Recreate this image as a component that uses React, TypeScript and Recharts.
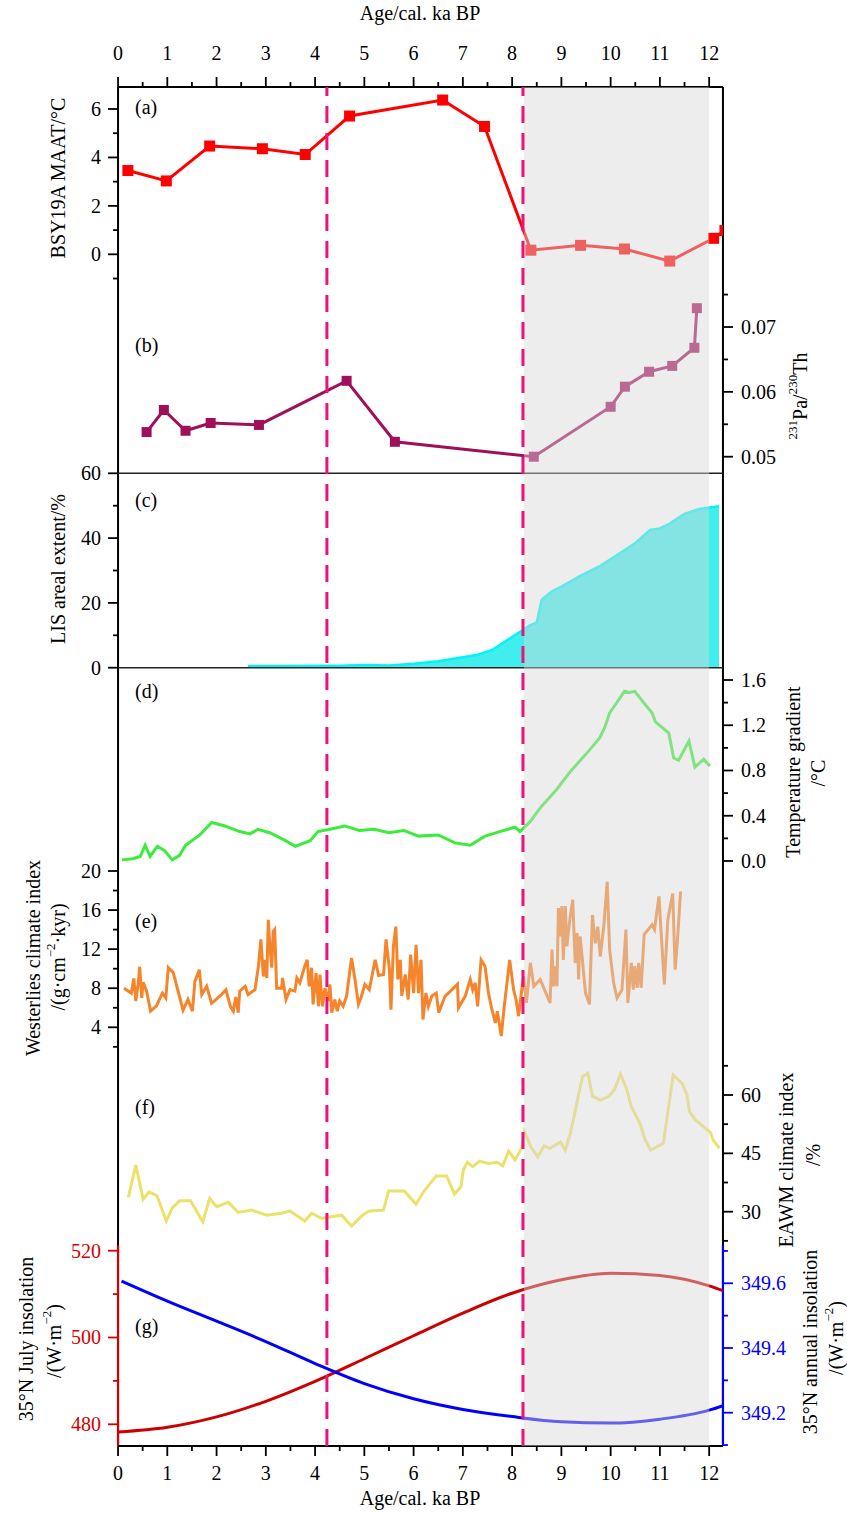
import React from 'react';
import { ComposedChart, Line, Area, XAxis, YAxis, ReferenceLine, ReferenceArea } from 'recharts';

// ---------------- data ----------------
const ageTicks = [0, 0.5, 1, 1.5, 2, 2.5, 3, 3.5, 4, 4.5, 5, 5.5, 6, 6.5, 7, 7.5, 8, 8.5, 9, 9.5, 10, 10.5, 11, 11.5, 12];

// (a) BSY19A MAAT
const ageA = [0.2, 0.98, 1.86, 2.93, 3.8, 4.7, 6.59, 7.44, 8.38, 9.39, 10.28, 11.2, 12.09, 12.32];
const maatA = [3.46, 3.03, 4.47, 4.36, 4.12, 5.71, 6.37, 5.28, 0.17, 0.37, 0.22, -0.28, 0.66, 0.98];

// (b) 231Pa/230Th
const ageB = [0.58, 0.93, 1.37, 1.88, 2.86, 4.64, 5.62, 8.44, 10.0, 10.29, 10.78, 11.25, 11.7, 11.75];
const paB = [0.0538, 0.0572, 0.054, 0.0552, 0.0549, 0.0617, 0.0523, 0.05, 0.0577, 0.0608, 0.0631, 0.064, 0.0668, 0.0729];

// (c) LIS areal extent
const ageC = [2.64, 3.5, 4.5, 5.0, 5.5, 6.0, 6.5, 7.0, 7.3, 7.6, 7.85, 8.1, 8.35, 8.5, 8.6, 8.8, 9.0, 9.4, 9.8, 10.2, 10.5, 10.8, 11.0, 11.2, 11.5, 11.8, 12.2];
const lisC = [0.5, 0.5, 0.6, 0.8, 0.7, 1.2, 2.0, 3.2, 4.0, 5.5, 8, 10.5, 13, 14, 21, 23.5, 25, 28.5, 31.5, 35.5, 38.5, 42.5, 43, 44.5, 47.5, 49, 49.8];

// (d) Temperature gradient
const ageD = [0.08, 0.3, 0.45, 0.55, 0.65, 0.8, 0.95, 1.1, 1.25, 1.37, 1.66, 1.9, 2.17, 2.47, 2.68, 2.84, 3.08, 3.4, 3.6, 3.9, 4.06, 4.3, 4.6, 4.9, 5.2, 5.5, 5.8, 6.1, 6.5, 6.84, 7.15, 7.45, 7.75, 8.06, 8.16, 8.37, 8.57, 8.9, 9.18, 9.57, 9.78, 9.88, 9.98, 10.14, 10.28, 10.38, 10.49, 10.67, 10.84, 10.91, 11.18, 11.28, 11.38, 11.59, 11.71, 11.89, 12.01];
const gradD = [0.01, 0.02, 0.04, 0.14, 0.04, 0.13, 0.09, 0.01, 0.05, 0.14, 0.23, 0.34, 0.31, 0.26, 0.24, 0.28, 0.25, 0.18, 0.13, 0.18, 0.26, 0.28, 0.31, 0.27, 0.28, 0.25, 0.27, 0.22, 0.23, 0.16, 0.14, 0.22, 0.26, 0.3, 0.26, 0.35, 0.47, 0.63, 0.79, 0.98, 1.09, 1.18, 1.31, 1.41, 1.5, 1.49, 1.5, 1.4, 1.31, 1.23, 1.13, 0.91, 0.89, 1.06, 0.83, 0.9, 0.84];

// (e) Westerlies climate index
const ageE = [0.12, 0.27, 0.32, 0.36, 0.41, 0.44, 0.48, 0.51, 0.58, 0.66, 0.78, 0.9, 0.97, 1.02, 1.12, 1.32, 1.42, 1.51, 1.56, 1.65, 1.7, 1.8, 1.9, 2.1, 2.19, 2.28, 2.34, 2.39, 2.44, 2.47, 2.58, 2.64, 2.78, 2.85, 2.9, 2.95, 2.98, 3.02, 3.05, 3.08, 3.12, 3.15, 3.18, 3.22, 3.32, 3.34, 3.41, 3.49, 3.59, 3.63, 3.69, 3.79, 3.84, 3.88, 3.93, 3.96, 4.02, 4.07, 4.1, 4.15, 4.2, 4.27, 4.3, 4.34, 4.4, 4.45, 4.5, 4.57, 4.64, 4.74, 4.81, 4.88, 4.93, 5.01, 5.1, 5.22, 5.29, 5.39, 5.44, 5.51, 5.54, 5.59, 5.64, 5.68, 5.73, 5.76, 5.83, 5.89, 5.94, 6.0, 6.05, 6.1, 6.15, 6.19, 6.25, 6.3, 6.37, 6.46, 6.51, 6.64, 6.78, 6.89, 6.91, 7.05, 7.15, 7.2, 7.25, 7.3, 7.37, 7.45, 7.52, 7.59, 7.66, 7.7, 7.78, 7.84, 7.95, 8.03, 8.08, 8.13, 8.18, 8.23, 8.29, 8.37, 8.44, 8.57, 8.77, 8.81, 8.84, 8.88, 8.91, 8.94, 8.98, 9.01, 9.04, 9.08, 9.11, 9.18, 9.23, 9.28, 9.32, 9.35, 9.38, 9.42, 9.49, 9.57, 9.63, 9.69, 9.74, 9.79, 9.86, 9.93, 9.98, 10.06, 10.13, 10.23, 10.31, 10.35, 10.42, 10.46, 10.49, 10.54, 10.57, 10.62, 10.68, 10.84, 10.89, 10.98, 11.09, 11.16, 11.21, 11.26, 11.31, 11.35, 11.42];
const westE = [8.0, 7.5, 9.0, 6.7, 8.5, 10.2, 7.0, 8.6, 7.7, 5.65, 6.2, 7.5, 7.0, 10.1, 9.6, 5.75, 6.85, 5.65, 8.7, 9.9, 7.35, 8.2, 6.45, 7.35, 7.85, 6.15, 5.65, 7.1, 5.5, 7.7, 8.2, 7.35, 7.85, 10.25, 13.0, 9.2, 10.9, 9.05, 15.0, 12.45, 10.1, 13.8, 14.0, 8.0, 8.0, 9.05, 6.85, 7.85, 7.7, 9.05, 8.55, 10.25, 10.9, 8.2, 10.1, 6.35, 9.55, 6.15, 9.4, 6.15, 8.0, 6.7, 8.4, 5.5, 6.85, 5.65, 6.7, 6.15, 7.2, 11.1, 8.9, 6.35, 7.0, 8.4, 7.85, 10.9, 9.3, 9.4, 13.0, 9.9, 5.8, 12.3, 14.3, 8.9, 10.9, 7.2, 9.4, 6.85, 11.45, 7.5, 12.45, 7.5, 10.9, 4.8, 7.5, 6.15, 7.2, 7.5, 5.5, 7.2, 7.85, 8.4, 6.0, 7.2, 8.9, 7.85, 8.55, 6.15, 10.9, 10.25, 7.5, 5.8, 4.45, 5.65, 3.1, 6.15, 10.9, 7.85, 6.85, 5.15, 7.2, 9.2, 6.5, 10.6, 8.2, 8.9, 6.5, 11.95, 8.2, 10.25, 8.2, 16.2, 13.3, 16.4, 10.9, 16.4, 12.3, 15.35, 17.05, 10.6, 13.65, 8.9, 13.3, 11.25, 7.5, 6.35, 15.5, 12.6, 14.3, 11.25, 14.3, 18.9, 11.95, 8.55, 7.0, 7.85, 14.0, 6.5, 10.6, 7.85, 10.25, 8.05, 10.6, 8.05, 13.5, 14.5, 14.0, 17.4, 8.4, 15.0, 16.4, 17.7, 9.9, 12.45, 17.9];

// (f) EAWM climate index
const ageF = [0.21, 0.36, 0.51, 0.63, 0.79, 0.98, 1.1, 1.25, 1.47, 1.72, 1.86, 2.0, 2.24, 2.44, 2.71, 3.02, 3.32, 3.49, 3.79, 3.93, 4.13, 4.54, 4.74, 4.95, 5.1, 5.39, 5.49, 5.81, 6.05, 6.2, 6.46, 6.67, 6.83, 6.96, 7.01, 7.09, 7.2, 7.34, 7.52, 7.69, 7.81, 7.93, 8.06, 8.2, 8.25, 8.38, 8.52, 8.65, 8.77, 8.98, 9.08, 9.18, 9.3, 9.34, 9.43, 9.54, 9.63, 9.79, 9.96, 10.08, 10.2, 10.32, 10.42, 10.6, 10.7, 10.81, 11.07, 11.27, 11.45, 11.55, 11.6, 11.72, 11.89, 12.03, 12.08, 12.21];
const eawmF = [33.7, 42.0, 33.2, 35.1, 34.1, 27.6, 31.0, 32.8, 32.8, 27.4, 33.4, 31.3, 32.4, 29.8, 30.4, 29.1, 29.6, 30.2, 27.6, 29.6, 28.3, 29.1, 26.3, 29.0, 30.2, 30.4, 35.3, 35.3, 31.9, 35.1, 39.2, 39.2, 34.5, 36.4, 40.7, 42.7, 41.6, 43.0, 42.4, 42.7, 41.8, 45.6, 43.3, 46.5, 50.6, 46.7, 44.1, 46.9, 46.3, 47.9, 45.8, 50.0, 57.0, 59.6, 64.7, 65.6, 59.7, 58.7, 59.6, 61.5, 65.4, 61.7, 57.0, 52.5, 48.5, 45.8, 47.6, 65.1, 63.0, 60.0, 55.7, 53.6, 51.8, 50.3, 48.4, 46.3];

// (g) insolation
const ageJuly = [0, 1, 2, 3, 4, 5, 6, 7, 8, 9, 10, 11, 12, 12.28];
const julyG = [478.2, 479.3, 481.7, 485.3, 489.9, 495.1, 500.4, 505.6, 510.2, 513.3, 514.8, 514.3, 511.9, 510.8];
const ageAnnual = [0.07, 1, 2, 3, 4, 5, 6, 7, 8, 9, 10, 11, 12, 12.28];
const annualG = [349.607, 349.545, 349.483, 349.42, 349.352, 349.29, 349.243, 349.21, 349.188, 349.172, 349.168, 349.18, 349.208, 349.222];

// tick sets
const ticksA = [-1, 0, 1, 2, 3, 4, 5, 6];
const ticksB = [0.05, 0.055, 0.06, 0.065, 0.07, 0.075];
const ticksC = [0, 10, 20, 30, 40, 50, 60];
const ticksD = [0, 0.2, 0.4, 0.6, 0.8, 1.0, 1.2, 1.4, 1.6];
const ticksE = [2, 4, 6, 8, 10, 12, 14, 16, 18, 20];
const ticksF = [22.5, 30, 37.5, 45, 52.5, 60, 67.5];
const ticksJuly = [480, 490, 500, 510, 520];
const ticksAnnual = [349.1, 349.2, 349.3, 349.4, 349.5, 349.6, 349.7];

const eventAges = [4.24, 8.22];
const bandStart = 8.24;
const bandEnd = 12.0;

// ---------------- layout ----------------
const W = 847, H = 1515;
const PL = 118, PR = 723, PT = 87, PB = 1446;
const X_MAX = 12.28;
const TINY = 0.01;
const FONT = '"Liberation Serif", "Times New Roman", serif';
const MARGIN = { top: PT, bottom: H - PB, left: PL, right: W - PR };

const zip = (xs: number[], ys: number[]) => xs.map((x, i) => ({ x, y: ys[i] }));

function domainFrom(v1: number, p1: number, v2: number, p2: number): [number, number] {
  const k = (p1 - p2) / (v2 - v1);
  return [v1 - (PB - p1) / k, v1 + (p1 - PT) / k];
}

const domA = domainFrom(0, 254.3, 6, 109);
const domB = domainFrom(0.05, 456.7, 0.07, 327);
const domC = domainFrom(0, 667.7, 60, 473.3);
const domD = domainFrom(0, 861, 1.6, 680);
const domE = domainFrom(4, 1027.3, 20, 871);
const domF = domainFrom(30, 1211.7, 60, 1095);
const domJuly = domainFrom(480, 1424.3, 520, 1250.7);
const domAnnual = domainFrom(349.2, 1412.7, 349.6, 1283.3);

type Side = 'left' | 'right' | 'top' | 'bottom';
function makeTick(side: Side, isMajor: (v: number) => boolean, fmt: (v: number) => string, color = '#000') {
  return function TickMark(props: any) {
    const { x, y, payload } = props;
    const v = Number(payload.value);
    const major = isMajor(v);
    const len = major ? 10 : 5;
    let x2 = x, y2 = y, tx = x, ty = y, anchor = 'middle', dy = '0';
    if (side === 'left') { x2 = x - len; tx = x - 17; anchor = 'end'; dy = '0.35em'; }
    else if (side === 'right') { x2 = x + len; tx = x + 18; anchor = 'start'; dy = '0.35em'; }
    else if (side === 'top') { y2 = y - len; ty = y - 27; }
    else { y2 = y + len; ty = y + 34; }
    return (
      <g>
        <line x1={x} y1={y} x2={x2} y2={y2} stroke={color} strokeWidth={1.8} />
        {major ? (
          <text x={tx} y={ty} dy={dy} textAnchor={anchor} fill={color} fontSize={20} fontFamily={FONT}>
            {fmt(v)}
          </text>
        ) : null}
      </g>
    );
  };
}

const near = (a: number, b: number) => Math.abs(a - b) < 1e-6;
const isMult = (step: number) => (v: number) => near(v / step, Math.round(v / step));

const square = (color: string, s: number) => (props: any) => {
  const { cx, cy, index } = props;
  if (cx == null || cy == null) return <g key={index} />;
  return <rect key={index} x={cx - s / 2} y={cy - s / 2} width={s} height={s} fill={color} />;
};

const RED_G = '#d40000';
const BLUE_G = '#0000ff';

export default function App() {
  const axisLine = { stroke: '#000', strokeWidth: 2 };
  const yCommon = { type: 'number' as const, width: TINY, axisLine: false, tickLine: false, tickSize: 0, tickMargin: 0, interval: 0 as const, allowDataOverflow: true };
  return (
    <div style={{ position: 'absolute', left: 0, top: 0, width: W, height: H, background: '#fff' }}>
      <div style={{ position: 'absolute', left: 0, top: 0 }}>
        <ComposedChart width={W} height={H} margin={MARGIN} data={[{ x: 0 }, { x: X_MAX }]}>
          <XAxis xAxisId="bx" type="number" dataKey="x" orientation="bottom" domain={[0, X_MAX]} allowDataOverflow height={TINY}
            ticks={ageTicks} interval={0} tickSize={0} tickMargin={0} tickLine={false} axisLine={axisLine}
            tick={makeTick('bottom', isMult(1), (v) => String(v))} />
          <XAxis xAxisId="tx" type="number" dataKey="x" orientation="top" domain={[0, X_MAX]} allowDataOverflow height={TINY}
            ticks={ageTicks} interval={0} tickSize={0} tickMargin={0} tickLine={false} axisLine={axisLine}
            tick={makeTick('top', isMult(1), (v) => String(v))} />

          <YAxis yAxisId="a" orientation="left" domain={domA} ticks={ticksA} {...yCommon}
            tick={makeTick('left', isMult(2), (v) => String(v))} />
          <YAxis yAxisId="b" orientation="right" domain={domB} ticks={ticksB} {...yCommon}
            tick={makeTick('right', isMult(0.01), (v) => v.toFixed(2))} />
          <YAxis yAxisId="c" orientation="left" domain={domC} ticks={ticksC} {...yCommon}
            tick={makeTick('left', isMult(20), (v) => String(v))} />
          <YAxis yAxisId="d" orientation="right" domain={domD} ticks={ticksD} {...yCommon}
            tick={makeTick('right', isMult(0.4), (v) => v.toFixed(1))} />
          <YAxis yAxisId="e" orientation="left" domain={domE} ticks={ticksE} {...yCommon}
            tick={makeTick('left', isMult(4), (v) => String(v))} />
          <YAxis yAxisId="f" orientation="right" domain={domF} ticks={ticksF} {...yCommon}
            tick={makeTick('right', isMult(15), (v) => String(v))} />
          <YAxis yAxisId="july" orientation="left" domain={domJuly} ticks={ticksJuly} {...yCommon}
            tick={makeTick('left', isMult(20), (v) => String(v), RED_G)} />
          <YAxis yAxisId="annual" orientation="right" domain={domAnnual} ticks={ticksAnnual} {...yCommon}
            tick={makeTick('right', (v) => Math.round(v * 10) % 2 === 0, (v) => v.toFixed(1), BLUE_G)} />

          {/* frame */}
          <ReferenceLine xAxisId="bx" yAxisId="a" x={0} stroke="#000" strokeWidth={2} />
          <ReferenceLine xAxisId="bx" yAxisId="a" x={X_MAX} stroke="#000" strokeWidth={2} />
          <ReferenceLine xAxisId="bx" yAxisId="c" y={60} stroke="#222" strokeWidth={1.5} />
          <ReferenceLine xAxisId="bx" yAxisId="c" y={0} stroke="#222" strokeWidth={1.5} />
          <ReferenceLine xAxisId="bx" yAxisId="july" ifOverflow="visible"
            segment={[{ x: 0, y: domJuly[0] }, { x: 0, y: 521.2 }]} stroke={RED_G} strokeWidth={2.2} />
          <ReferenceLine xAxisId="bx" yAxisId="annual" ifOverflow="visible"
            segment={[{ x: X_MAX, y: domAnnual[0] }, { x: X_MAX, y: 349.716 }]} stroke={BLUE_G} strokeWidth={2.2} />

          <Area xAxisId="bx" yAxisId="c" data={zip(ageC, lisC)} dataKey="y" type="linear" baseValue={0}
            stroke="#00f4f4" strokeWidth={2.5} fill="#40eeee" fillOpacity={1} isAnimationActive={false} />
          <Line xAxisId="bx" yAxisId="a" data={zip(ageA, maatA)} dataKey="y" type="linear" stroke="#ff0000" strokeWidth={3}
            dot={square('#ff0000', 11)} isAnimationActive={false} />
          <Line xAxisId="bx" yAxisId="b" data={zip(ageB, paB)} dataKey="y" type="linear" stroke="#a0105a" strokeWidth={3}
            dot={square('#a0105a', 10)} isAnimationActive={false} />
          <Line xAxisId="bx" yAxisId="d" data={zip(ageD, gradD)} dataKey="y" type="linear" stroke="#3cec3c" strokeWidth={3}
            dot={false} isAnimationActive={false} />
          <Line xAxisId="bx" yAxisId="e" data={zip(ageE, westE)} dataKey="y" type="linear" stroke="#f5842a" strokeWidth={3}
            dot={false} isAnimationActive={false} />
          <Line xAxisId="bx" yAxisId="f" data={zip(ageF, eawmF)} dataKey="y" type="linear" stroke="#ebe26a" strokeWidth={3}
            dot={false} isAnimationActive={false} />
          <Line xAxisId="bx" yAxisId="july" data={zip(ageJuly, julyG)} dataKey="y" type="monotone" stroke="#cc0000" strokeWidth={3}
            dot={false} isAnimationActive={false} />
          <Line xAxisId="bx" yAxisId="annual" data={zip(ageAnnual, annualG)} dataKey="y" type="monotone" stroke={BLUE_G} strokeWidth={3}
            dot={false} isAnimationActive={false} />

          {/* shaded interval and event lines, drawn above the series */}
          <ReferenceArea xAxisId="bx" yAxisId="a" x1={bandStart} x2={bandEnd} fill="#d6d6d6" fillOpacity={0.45} stroke="none"
            ifOverflow="visible" zIndex={1500} />
          {eventAges.map((a) => (
            <ReferenceLine key={a} xAxisId="bx" yAxisId="a" x={a} stroke="#ee1177" strokeWidth={3} strokeDasharray="17 10" zIndex={1600} />
          ))}
        </ComposedChart>
      </div>

      {/* text overlay */}
      <svg width={W} height={H} style={{ position: 'absolute', left: 0, top: 0, pointerEvents: 'none' }}
        fontFamily={FONT} fontSize={20} fill="#000">
        <text x={420} y={20} textAnchor="middle">Age/cal. ka BP</text>
        <text x={420} y={1505} textAnchor="middle">Age/cal. ka BP</text>

        <text x={135} y={114}>(a)</text>
        <text x={135} y={352}>(b)</text>
        <text x={135} y={507}>(c)</text>
        <text x={135} y={698}>(d)</text>
        <text x={135} y={928}>(e)</text>
        <text x={135} y={1114}>(f)</text>
        <text x={135} y={1333}>(g)</text>

        <text x={58} y={178} transform="rotate(-90 58 178)" textAnchor="middle" dominantBaseline="central">BSY19A MAAT/°C</text>
        <text x={800} y={396} transform="rotate(-90 800 396)" textAnchor="middle" dominantBaseline="central">
          <tspan fontSize={13} dy={-8}>231</tspan><tspan dy={8}>Pa/</tspan><tspan fontSize={13} dy={-8}>230</tspan><tspan dy={8}>Th</tspan>
        </text>
        <text x={58} y={569} transform="rotate(-90 58 569)" textAnchor="middle" dominantBaseline="central">LIS areal extent/%</text>
        <text x={793} y={772} transform="rotate(-90 793 772)" textAnchor="middle" dominantBaseline="central">Temperature gradient</text>
        <text x={818} y={773} transform="rotate(-90 818 773)" textAnchor="middle" dominantBaseline="central">/°C</text>
        <text x={33} y={958} transform="rotate(-90 33 958)" textAnchor="middle" dominantBaseline="central">Westerlies climate index</text>
        <text x={58} y={957} transform="rotate(-90 58 957)" textAnchor="middle" dominantBaseline="central">
          <tspan>/(g·cm</tspan><tspan fontSize={13} dy={-8}>−2</tspan><tspan dy={8}>·kyr)</tspan>
        </text>
        <text x={786} y={1160} transform="rotate(-90 786 1160)" textAnchor="middle" dominantBaseline="central">EAWM climate index</text>
        <text x={813} y={1155} transform="rotate(-90 813 1155)" textAnchor="middle" dominantBaseline="central">/%</text>
        <text x={26} y={1339} transform="rotate(-90 26 1339)" textAnchor="middle" dominantBaseline="central">35°N July insolation</text>
        <text x={54} y={1341} transform="rotate(-90 54 1341)" textAnchor="middle" dominantBaseline="central">
          <tspan>/(W·m</tspan><tspan fontSize={13} dy={-8}>−2</tspan><tspan dy={8}>)</tspan>
        </text>
        <text x={810} y={1342} transform="rotate(-90 810 1342)" textAnchor="middle" dominantBaseline="central">35°N annual insolation</text>
        <text x={836} y={1338} transform="rotate(-90 836 1338)" textAnchor="middle" dominantBaseline="central">
          <tspan>/(W·m</tspan><tspan fontSize={13} dy={-8}>−2</tspan><tspan dy={8}>)</tspan>
        </text>
      </svg>
    </div>
  );
}
